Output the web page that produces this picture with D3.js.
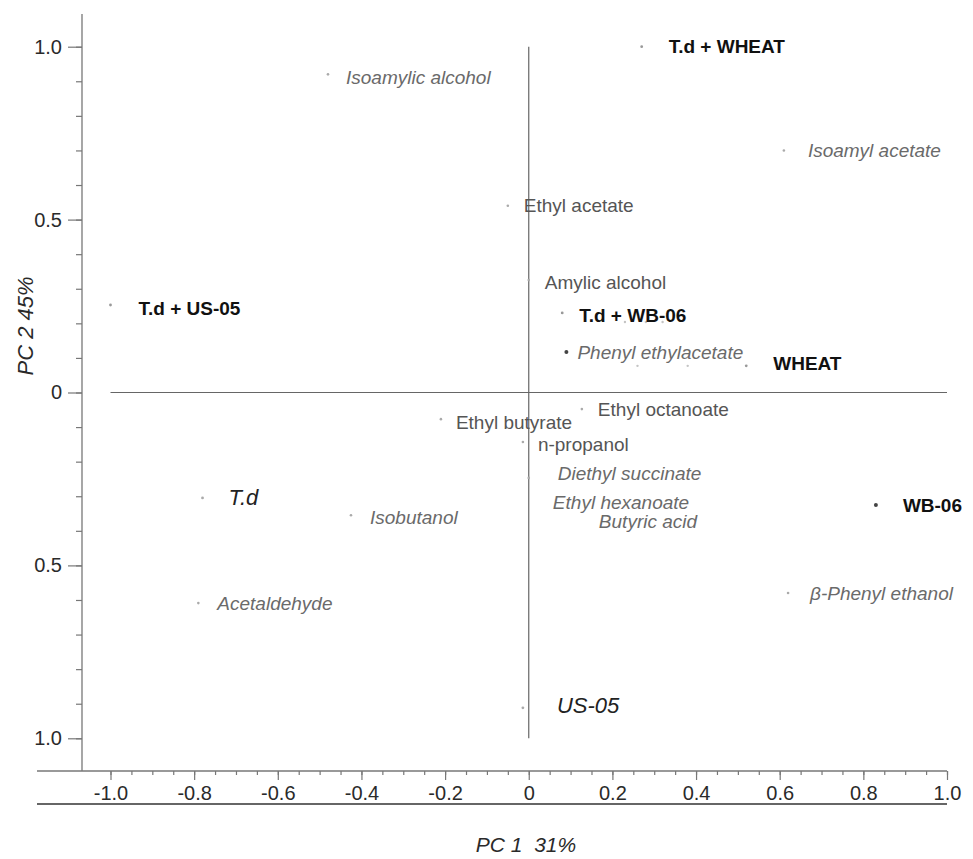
<!DOCTYPE html>
<html>
<head>
<meta charset="utf-8">
<script src="https://cdn.jsdelivr.net/npm/d3@7"></script>
<style>
  html, body { margin: 0; padding: 0; background: #fff; }
  text { font-family: "Liberation Sans", Arial, sans-serif; }
</style>
</head>
<body>
<script>
// ---------------- DATA ----------------
const names = [
  "T.d + WHEAT", "Isoamyl acetate", "Isoamylic alcohol", "Ethyl acetate",
  "Amylic alcohol", "T.d + WB-06", "Phenyl ethylacetate", "WHEAT",
  "", "", "", "", "",
  "WB-06", "β-Phenyl ethanol", "T.d + US-05", "T.d", "Acetaldehyde",
  "Isobutanol", "Ethyl butyrate", "Ethyl octanoate", "n-propanol",
  "Diethyl succinate", "Ethyl hexanoate", "Butyric acid", "US-05"
];
const pc1 = [
  0.27, 0.61, -0.48, -0.05,
  0.00, 0.08, 0.09, 0.52,
  0.26, 0.38, 0.23, 0.28, 0.32,
  0.83, 0.62, -1.00, -0.78, -0.79,
  -0.425, -0.21, 0.127, -0.014,
  0.00, 0.017, 0.127, -0.014
];
const pc2 = [
  1.00, 0.70, 0.92, 0.54,
  0.325, 0.23, 0.117, 0.077,
  0.077, 0.077, 0.204, 0.204, 0.204,
  -0.325, -0.58, 0.253, -0.305, -0.609,
  -0.355, -0.077, -0.048, -0.143,
  -0.247, -0.317, -0.369, -0.912
];
// kind of each point: sample (bold), sampleItalic, compound (upright), compoundItalic, none
const kinds = [
  "sample", "compoundItalic", "compoundItalic", "compound",
  "compound", "sample", "compoundItalic", "sample",
  "none", "none", "none", "none", "none",
  "sample", "compoundItalic", "sample", "sampleItalic", "compoundItalic",
  "compoundItalic", "compound", "compound", "compound",
  "compoundItalic", "compoundItalic", "compoundItalic", "sampleItalic"
];
const xMajorTicks = [-1.0, -0.8, -0.6, -0.4, -0.2, 0, 0.2, 0.4, 0.6, 0.8, 1.0];
const xTickLabels = ["-1.0", "-0.8", "-0.6", "-0.4", "-0.2", "0", "0.2", "0.4", "0.6", "0.8", "1.0"];
const yMajorTicks = [1.0, 0.5, 0, -0.5, -1.0];
const yTickLabels = ["1.0", "0.5", "0", "0.5", "1.0"];
const xTitle = "PC 1  31%";
const yTitle = "PC 2 45%";

// ---------------- LAYOUT ----------------
const W = 973, H = 859;
const svg = d3.select("body").append("svg")
  .attr("width", W).attr("height", H)
  .style("display", "block").style("background", "#fff");

const x = d3.scaleLinear().domain([-1, 1]).range([110.5, 947]);
const y = d3.scaleLinear().domain([-1, 1]).range([738.3, 46.7]);

const axisColor = "#777";
const xAxisY = 771, yAxisX = 82;

// crosshair lines
svg.append("line").attr("x1", x(-1)).attr("x2", x(1)).attr("y1", y(0)).attr("y2", y(0))
  .attr("stroke", "#666").attr("stroke-width", 1.2);
svg.append("line").attr("x1", x(0)).attr("x2", x(0)).attr("y1", y(1)).attr("y2", y(-1))
  .attr("stroke", "#666").attr("stroke-width", 1.2);

// Y axis
const yMinor = d3.range(-10, 11).map(d => d / 10);
const yAxisMinor = d3.axisLeft(y).tickValues(yMinor).tickSize(6).tickFormat("");
const gYm = svg.append("g").attr("transform", `translate(${yAxisX},0)`).call(yAxisMinor);
const yAxisMajor = d3.axisLeft(y).tickValues(yMajorTicks).tickSize(14).tickPadding(6)
  .tickFormat((d, i) => yTickLabels[i]);
const gY = svg.append("g").attr("transform", `translate(${yAxisX},0)`).call(yAxisMajor);
[gYm, gY].forEach(g => {
  g.select(".domain").remove();
  g.selectAll("line").attr("stroke", axisColor).attr("stroke-width", 1.2);
});
gY.selectAll("text").attr("font-size", 20).attr("fill", "#2a2a2a")
  .attr("font-family", "Liberation Sans, Arial, sans-serif");
svg.append("line").attr("x1", yAxisX).attr("x2", yAxisX).attr("y1", 14).attr("y2", xAxisY)
  .attr("stroke", axisColor).attr("stroke-width", 1.3);

// X axis
const xMinor = d3.range(-20, 21).map(d => d / 20);
const xAxisMinor = d3.axisBottom(x).tickValues(xMinor).tickSize(4).tickFormat("");
const gXm = svg.append("g").attr("transform", `translate(0,${xAxisY})`).call(xAxisMinor);
const xAxisMajor = d3.axisBottom(x).tickValues(xMajorTicks).tickSize(9).tickPadding(6)
  .tickFormat((d, i) => xTickLabels[i]);
const gX = svg.append("g").attr("transform", `translate(0,${xAxisY})`).call(xAxisMajor);
[gXm, gX].forEach(g => {
  g.select(".domain").remove();
  g.selectAll("line").attr("stroke", axisColor).attr("stroke-width", 1.2);
});
gX.selectAll("text").attr("font-size", 20).attr("fill", "#2a2a2a")
  .attr("font-family", "Liberation Sans, Arial, sans-serif");
svg.append("line").attr("x1", 37).attr("x2", 947).attr("y1", xAxisY).attr("y2", xAxisY)
  .attr("stroke", axisColor).attr("stroke-width", 1.3);
svg.append("line").attr("x1", 37).attr("x2", 947).attr("y1", 804).attr("y2", 804)
  .attr("stroke", "#666").attr("stroke-width", 2);

// Axis titles
svg.append("text").text(yTitle)
  .attr("transform", "translate(33,326) rotate(-90)")
  .attr("text-anchor", "middle").attr("font-size", 22).attr("font-style", "italic")
  .attr("fill", "#2a2a2a");
svg.append("text").text(xTitle).attr("xml:space", "preserve").style("white-space", "pre")
  .attr("x", 526).attr("y", 852)
  .attr("text-anchor", "middle").attr("font-size", 21).attr("font-style", "italic")
  .attr("fill", "#2a2a2a");

// points
const pts = names.map((n, i) => ({ name: n, v1: pc1[i], v2: pc2[i], kind: kinds[i] }));

const dotStyle = {
  sample: { r: 1.4, fill: "#999" },
  sampleItalic: { r: 1.4, fill: "#aaa" },
  compound: { r: 1.3, fill: "#aaa" },
  compoundItalic: { r: 1.3, fill: "#aaa" },
  none: { r: 1.2, fill: "#c4c4c4" }
};
const darkDots = new Set(["Phenyl ethylacetate", "WB-06"]);
const hiddenDots = new Set(["Ethyl hexanoate", "Butyric acid"]);

svg.append("g").selectAll("circle").data(pts).join("circle")
  .attr("cx", d => x(d.v1)).attr("cy", d => y(d.v2))
  .attr("r", d => darkDots.has(d.name) ? 2 : dotStyle[d.kind].r)
  .attr("fill", d => darkDots.has(d.name) ? "#444" : dotStyle[d.kind].fill)
  .attr("opacity", d => hiddenDots.has(d.name) ? 0 : 1);

const labelStyle = {
  sample: { size: 19, weight: "bold", style: "normal", fill: "#111", dx: 27 },
  sampleItalic: { size: 22, weight: "normal", style: "italic", fill: "#222", dx: 27 },
  compound: { size: 19, weight: "normal", style: "normal", fill: "#555", dx: 16 },
  compoundItalic: { size: 19, weight: "normal", style: "italic", fill: "#6a6a6a", dx: 18 }
};
// label placement tweaks [dx, dy] in pixels
const labelNudge = {
  "Isoamyl acetate": [24, 0],
  "Isoamylic alcohol": [18, 3],
  "Phenyl ethylacetate": [11, 0],
  "WHEAT": [27, -3],
  "β-Phenyl ethanol": [22, 0],
  "T.d + US-05": [28, 3],
  "T.d": [26, -1],
  "Acetaldehyde": [19, 0],
  "Isobutanol": [19, 2],
  "Ethyl butyrate": [15, 3],
  "Diethyl succinate": [29, -5],
  "Ethyl hexanoate": [17, 0],
  "Butyric acid": [17, 1],
  "US-05": [34, -3],
  "T.d + WB-06": [17, 2],
  "Amylic alcohol": [16, 2],
  "n-propanol": [15, 2]
};

svg.append("g").selectAll("text").data(pts.filter(d => d.kind !== "none")).join("text")
  .text(d => d.name)
  .attr("x", d => x(d.v1) + (labelNudge[d.name] ? labelNudge[d.name][0] : labelStyle[d.kind].dx))
  .attr("y", d => y(d.v2) + (labelNudge[d.name] ? labelNudge[d.name][1] : 0))
  .attr("dy", "0.35em")
  .attr("font-size", d => labelStyle[d.kind].size)
  .attr("font-weight", d => labelStyle[d.kind].weight)
  .attr("font-style", d => labelStyle[d.kind].style)
  .attr("fill", d => labelStyle[d.kind].fill);
</script>
</body>
</html>
